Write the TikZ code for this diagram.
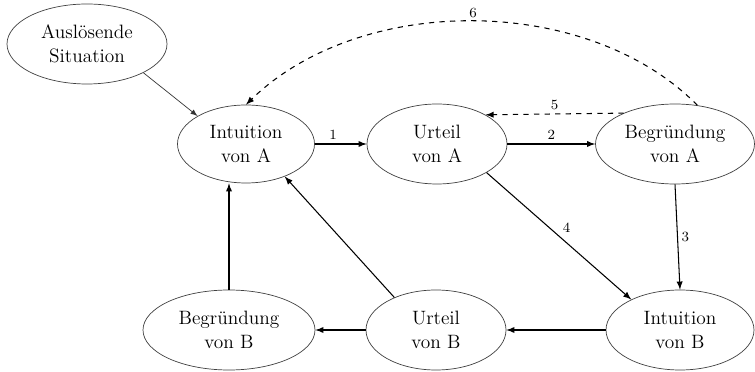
\documentclass[tikz,border=0pt]{standalone}
\usetikzlibrary{shapes.geometric, positioning, arrows}

\begin{document}
\begin{tikzpicture}[node distance=40mm, state/.style={ellipse, draw=black!75, thin, minimum width=28mm, minimum height=16mm, align=center, font=\fontsize{11}{13.5}\selectfont}, flow/.style={-latex, semithick}, num/.style={font=\footnotesize, inner sep=2pt}]

  \useasboundingbox (0,0) rectangle (15.1,7.42);

  \node[state, minimum width=32mm] (trigger) at (1.74,6.54) {Auslösende\\Situation};
  \node[state, minimum width=27.4mm, minimum height=15.6mm] (intA) at (4.92,4.54) {Intuition\\von A};
  \node[state, right of=intA, node distance=38.2mm] (urtA) {Urteil\\von A};
  \node[state, right of=urtA, node distance=47.6mm, minimum width=31mm] (begA) {Begründung\\von A};

  \node[state, minimum width=29.6mm] (intB) at (13.6,0.82) {Intuition\\von B};
  \node[state, left of=intB, node distance=48.8mm] (urtB) {Urteil\\von B};
  \node[state, left of=urtB, node distance=41.4mm, minimum width=34.4mm] (begB) {Begründung\\von B};

  \draw[-latex, thin, black!80] (trigger.-27) -- (intA.150);
  \draw[flow] (intA) -- node[num, above, pos=0.35] {1} (urtA);
  \draw[flow] (urtA) -- node[num, above] {2} (begA);
  \draw[flow] (begA.south) -- node[num, right, pos=0.5] {3} (intB.north);
  \draw[flow] (urtA.-30) -- node[num, above right, pos=0.5] {4} (intB.148);
  \draw[-latex, dashed, semithick] (begA.149) -- node[num, above] {5} (urtA.31);
  \draw[-latex, dashed, semithick] (begA.60) .. controls (11.74,7.55) and (7.2,7.55) .. node[num, above, pos=0.5] {6} (intA.north);

  \draw[flow] (intB) -- (urtB);
  \draw[flow] (urtB) -- (begB);
  \draw[flow] (begB.north) -- (begB.north |- intA.south);
  \draw[flow] (urtB.142) -- (intA.-40);

\end{tikzpicture}
\end{document}
